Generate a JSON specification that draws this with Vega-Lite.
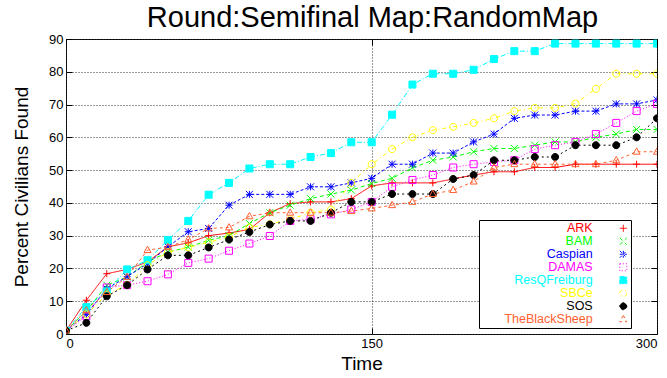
{
  "$schema": "https://vega.github.io/schema/vega-lite/v6.json",
  "width": 591,
  "height": 295,
  "autosize": {"type": "none"},
  "padding": {"left": 66, "top": 39, "right": 10, "bottom": 44},
  "background": "white",
  "title": {"text": "Round:Semifinal Map:RandomMap", "font": "Liberation Sans", "fontSize": 29, "fontWeight": "normal", "color": "black", "anchor": "middle", "frame": "group", "dx": 11, "offset": 0},
  "config": {
    "view": {"stroke": "black", "strokeWidth": 1},
    "axis": {"labelFont": "Liberation Sans", "labelFontSize": 13, "labelColor": "black", "titleFont": "Liberation Sans", "titleFontSize": 19, "titleFontWeight": "normal", "titleColor": "black", "domain": false, "tickColor": "black", "tickSize": -6, "grid": true, "gridColor": "#333333", "gridDash": [1, 2], "gridOpacity": 1}
  },
  "data": {"values": [
    {"team":"ARK","t":0,"v":1},{"team":"ARK","t":10,"v":10.3},{"team":"ARK","t":20,"v":18.4},{"team":"ARK","t":30,"v":19.7},{"team":"ARK","t":40,"v":22},{"team":"ARK","t":50,"v":26.6},{"team":"ARK","t":60,"v":27.8},{"team":"ARK","t":70,"v":30},{"team":"ARK","t":80,"v":30.8},{"team":"ARK","t":90,"v":31.9},{"team":"ARK","t":100,"v":37},{"team":"ARK","t":110,"v":39.8},{"team":"ARK","t":120,"v":40.3},{"team":"ARK","t":130,"v":40.3},{"team":"ARK","t":140,"v":41.3},{"team":"ARK","t":150,"v":45.2},{"team":"ARK","t":160,"v":46.1},{"team":"ARK","t":170,"v":46.1},{"team":"ARK","t":180,"v":46.1},{"team":"ARK","t":190,"v":47.3},{"team":"ARK","t":200,"v":48.5},{"team":"ARK","t":210,"v":49.5},{"team":"ARK","t":220,"v":49.5},{"team":"ARK","t":230,"v":50.8},{"team":"ARK","t":240,"v":50.8},{"team":"ARK","t":250,"v":51.8},{"team":"ARK","t":260,"v":51.8},{"team":"ARK","t":270,"v":51.8},{"team":"ARK","t":280,"v":51.8},{"team":"ARK","t":290,"v":51.8},
    {"team":"BAM","t":0,"v":1},{"team":"BAM","t":10,"v":7},{"team":"BAM","t":20,"v":14.9},{"team":"BAM","t":30,"v":17.4},{"team":"BAM","t":40,"v":22},{"team":"BAM","t":50,"v":25},{"team":"BAM","t":60,"v":26.5},{"team":"BAM","t":70,"v":28.6},{"team":"BAM","t":80,"v":30},{"team":"BAM","t":90,"v":33.7},{"team":"BAM","t":100,"v":37},{"team":"BAM","t":110,"v":39.3},{"team":"BAM","t":120,"v":41.3},{"team":"BAM","t":130,"v":42.7},{"team":"BAM","t":140,"v":43.9},{"team":"BAM","t":150,"v":45.9},{"team":"BAM","t":160,"v":47.5},{"team":"BAM","t":170,"v":50.7},{"team":"BAM","t":180,"v":53},{"team":"BAM","t":190,"v":54},{"team":"BAM","t":200,"v":55.6},{"team":"BAM","t":210,"v":56.6},{"team":"BAM","t":220,"v":56.6},{"team":"BAM","t":230,"v":57.6},{"team":"BAM","t":240,"v":58.6},{"team":"BAM","t":250,"v":58.6},{"team":"BAM","t":260,"v":60},{"team":"BAM","t":270,"v":61},{"team":"BAM","t":280,"v":62.4},{"team":"BAM","t":290,"v":62.4},
    {"team":"Caspian","t":0,"v":1},{"team":"Caspian","t":10,"v":6},{"team":"Caspian","t":20,"v":13.8},{"team":"Caspian","t":30,"v":17.5},{"team":"Caspian","t":40,"v":21.5},{"team":"Caspian","t":50,"v":26.6},{"team":"Caspian","t":60,"v":31.2},{"team":"Caspian","t":70,"v":32.2},{"team":"Caspian","t":80,"v":39.3},{"team":"Caspian","t":90,"v":42.6},{"team":"Caspian","t":100,"v":42.6},{"team":"Caspian","t":110,"v":42.6},{"team":"Caspian","t":120,"v":44.9},{"team":"Caspian","t":130,"v":44.9},{"team":"Caspian","t":140,"v":46.1},{"team":"Caspian","t":150,"v":47.5},{"team":"Caspian","t":160,"v":51.8},{"team":"Caspian","t":170,"v":51.8},{"team":"Caspian","t":180,"v":55.2},{"team":"Caspian","t":190,"v":55.2},{"team":"Caspian","t":200,"v":58.6},{"team":"Caspian","t":210,"v":61},{"team":"Caspian","t":220,"v":65.8},{"team":"Caspian","t":230,"v":66.8},{"team":"Caspian","t":240,"v":66.8},{"team":"Caspian","t":250,"v":68},{"team":"Caspian","t":260,"v":68},{"team":"Caspian","t":270,"v":70.2},{"team":"Caspian","t":280,"v":70.2},{"team":"Caspian","t":290,"v":71.4},
    {"team":"DAMAS","t":0,"v":1},{"team":"DAMAS","t":10,"v":5.4},{"team":"DAMAS","t":20,"v":14.2},{"team":"DAMAS","t":30,"v":14.9},{"team":"DAMAS","t":40,"v":16.1},{"team":"DAMAS","t":50,"v":18.2},{"team":"DAMAS","t":60,"v":21.7},{"team":"DAMAS","t":70,"v":23},{"team":"DAMAS","t":80,"v":25.4},{"team":"DAMAS","t":90,"v":27.6},{"team":"DAMAS","t":100,"v":29.9},{"team":"DAMAS","t":110,"v":34.5},{"team":"DAMAS","t":120,"v":35},{"team":"DAMAS","t":130,"v":36.5},{"team":"DAMAS","t":140,"v":38},{"team":"DAMAS","t":150,"v":40.3},{"team":"DAMAS","t":160,"v":44.9},{"team":"DAMAS","t":170,"v":47},{"team":"DAMAS","t":180,"v":48.5},{"team":"DAMAS","t":190,"v":50.8},{"team":"DAMAS","t":200,"v":51.8},{"team":"DAMAS","t":210,"v":52.5},{"team":"DAMAS","t":220,"v":53},{"team":"DAMAS","t":230,"v":56.4},{"team":"DAMAS","t":240,"v":57.6},{"team":"DAMAS","t":250,"v":58.6},{"team":"DAMAS","t":260,"v":61},{"team":"DAMAS","t":270,"v":64.4},{"team":"DAMAS","t":280,"v":68},{"team":"DAMAS","t":290,"v":70.2},
    {"team":"ResQFreiburg","t":0,"v":1},{"team":"ResQFreiburg","t":10,"v":8.2},{"team":"ResQFreiburg","t":20,"v":13},{"team":"ResQFreiburg","t":30,"v":19.7},{"team":"ResQFreiburg","t":40,"v":22.5},{"team":"ResQFreiburg","t":50,"v":28.7},{"team":"ResQFreiburg","t":60,"v":34.5},{"team":"ResQFreiburg","t":70,"v":42.5},{"team":"ResQFreiburg","t":80,"v":46.1},{"team":"ResQFreiburg","t":90,"v":50.5},{"team":"ResQFreiburg","t":100,"v":51.8},{"team":"ResQFreiburg","t":110,"v":51.8},{"team":"ResQFreiburg","t":120,"v":54},{"team":"ResQFreiburg","t":130,"v":55.2},{"team":"ResQFreiburg","t":140,"v":58.5},{"team":"ResQFreiburg","t":150,"v":58.5},{"team":"ResQFreiburg","t":160,"v":66.9},{"team":"ResQFreiburg","t":170,"v":76.1},{"team":"ResQFreiburg","t":180,"v":79.4},{"team":"ResQFreiburg","t":190,"v":79.4},{"team":"ResQFreiburg","t":200,"v":80.6},{"team":"ResQFreiburg","t":210,"v":83.9},{"team":"ResQFreiburg","t":220,"v":86.3},{"team":"ResQFreiburg","t":230,"v":86.3},{"team":"ResQFreiburg","t":240,"v":88.6},{"team":"ResQFreiburg","t":250,"v":88.6},{"team":"ResQFreiburg","t":260,"v":88.6},{"team":"ResQFreiburg","t":270,"v":88.6},{"team":"ResQFreiburg","t":280,"v":88.6},{"team":"ResQFreiburg","t":290,"v":88.6},
    {"team":"SBCe","t":0,"v":1},{"team":"SBCe","t":10,"v":6},{"team":"SBCe","t":20,"v":12},{"team":"SBCe","t":30,"v":15},{"team":"SBCe","t":40,"v":21},{"team":"SBCe","t":50,"v":25},{"team":"SBCe","t":60,"v":26.4},{"team":"SBCe","t":70,"v":28},{"team":"SBCe","t":80,"v":29.6},{"team":"SBCe","t":90,"v":32.5},{"team":"SBCe","t":100,"v":33.5},{"team":"SBCe","t":110,"v":35},{"team":"SBCe","t":120,"v":37},{"team":"SBCe","t":130,"v":38},{"team":"SBCe","t":140,"v":46.1},{"team":"SBCe","t":150,"v":51.8},{"team":"SBCe","t":160,"v":56.4},{"team":"SBCe","t":170,"v":60},{"team":"SBCe","t":180,"v":62.2},{"team":"SBCe","t":190,"v":63.2},{"team":"SBCe","t":200,"v":64.4},{"team":"SBCe","t":210,"v":65.8},{"team":"SBCe","t":220,"v":68},{"team":"SBCe","t":230,"v":69},{"team":"SBCe","t":240,"v":69},{"team":"SBCe","t":250,"v":70.3},{"team":"SBCe","t":260,"v":74.8},{"team":"SBCe","t":270,"v":79.4},{"team":"SBCe","t":280,"v":79.4},{"team":"SBCe","t":290,"v":79.4},
    {"team":"SOS","t":0,"v":1},{"team":"SOS","t":10,"v":3.4},{"team":"SOS","t":20,"v":11.5},{"team":"SOS","t":30,"v":14.9},{"team":"SOS","t":40,"v":19.7},{"team":"SOS","t":50,"v":24},{"team":"SOS","t":60,"v":24},{"team":"SOS","t":70,"v":26.4},{"team":"SOS","t":80,"v":28.8},{"team":"SOS","t":90,"v":31.1},{"team":"SOS","t":100,"v":33.4},{"team":"SOS","t":110,"v":34.5},{"team":"SOS","t":120,"v":34.5},{"team":"SOS","t":130,"v":37},{"team":"SOS","t":140,"v":40.3},{"team":"SOS","t":150,"v":40.3},{"team":"SOS","t":160,"v":42.7},{"team":"SOS","t":170,"v":42.7},{"team":"SOS","t":180,"v":42.7},{"team":"SOS","t":190,"v":47.3},{"team":"SOS","t":200,"v":48.5},{"team":"SOS","t":210,"v":53},{"team":"SOS","t":220,"v":53},{"team":"SOS","t":230,"v":54},{"team":"SOS","t":240,"v":54},{"team":"SOS","t":250,"v":57.6},{"team":"SOS","t":260,"v":57.6},{"team":"SOS","t":270,"v":57.6},{"team":"SOS","t":280,"v":60},{"team":"SOS","t":290,"v":65.8},
    {"team":"TheBlackSheep","t":0,"v":1},{"team":"TheBlackSheep","t":10,"v":7.2},{"team":"TheBlackSheep","t":20,"v":12.8},{"team":"TheBlackSheep","t":30,"v":17.4},{"team":"TheBlackSheep","t":40,"v":25.6},{"team":"TheBlackSheep","t":50,"v":26.5},{"team":"TheBlackSheep","t":60,"v":28.8},{"team":"TheBlackSheep","t":70,"v":32.2},{"team":"TheBlackSheep","t":80,"v":32.5},{"team":"TheBlackSheep","t":90,"v":35.9},{"team":"TheBlackSheep","t":100,"v":37},{"team":"TheBlackSheep","t":110,"v":37},{"team":"TheBlackSheep","t":120,"v":37},{"team":"TheBlackSheep","t":130,"v":37},{"team":"TheBlackSheep","t":140,"v":37.5},{"team":"TheBlackSheep","t":150,"v":38.3},{"team":"TheBlackSheep","t":160,"v":39.3},{"team":"TheBlackSheep","t":170,"v":40.3},{"team":"TheBlackSheep","t":180,"v":42.7},{"team":"TheBlackSheep","t":190,"v":43.9},{"team":"TheBlackSheep","t":200,"v":46.5},{"team":"TheBlackSheep","t":210,"v":50.8},{"team":"TheBlackSheep","t":220,"v":51.8},{"team":"TheBlackSheep","t":230,"v":51.8},{"team":"TheBlackSheep","t":240,"v":51.8},{"team":"TheBlackSheep","t":250,"v":51.8},{"team":"TheBlackSheep","t":260,"v":51.8},{"team":"TheBlackSheep","t":270,"v":53},{"team":"TheBlackSheep","t":280,"v":55.6},{"team":"TheBlackSheep","t":290,"v":55.6}
  ]},
  "encoding": {
    "x": {"field": "t", "type": "quantitative", "scale": {"domain": [0, 290], "nice": false, "zero": false},
      "axis": {"values": [0, 150, 290], "labelExpr": "datum.value == 290 ? '300' : datum.label", "title": "Time", "labelPadding": 9, "titlePadding": 4}},
    "y": {"field": "v", "type": "quantitative", "scale": {"domain": [0, 90], "nice": false},
      "axis": {"values": [0, 10, 20, 30, 40, 50, 60, 70, 80, 90], "title": "Percent Civilians Found", "labelPadding": 9, "titlePadding": 17}}
  },
  "resolve": {"axis": {"x": "independent", "y": "independent"}},
  "layer": [
    {
      "mark": {"type": "line", "strokeWidth": 1, "clip": true},
      "encoding": {
        "color": {"field": "team", "type": "nominal",
          "scale": {"domain": ["ARK", "BAM", "Caspian", "DAMAS", "ResQFreiburg", "SBCe", "SOS", "TheBlackSheep"],
                    "range": ["#ff0000", "#00ff00", "#0000ff", "#ff00ff", "#00ffff", "#ffff00", "#000000", "#ff6030"]},
          "legend": {
            "orient": "none", "legendX": 413, "legendY": 181, "title": null,
            "strokeColor": "black", "fillColor": "white", "padding": 2, "rowPadding": 0,
            "labelFont": "Liberation Sans", "labelFontSize": 12.5, "symbolSize": 49, "symbolStrokeWidth": 1,
            "encode": {
              "labels": {"update": {"x": {"value": 111.7}, "align": {"value": "right"}, "fill": {"scale": "color", "field": "value"}}},
              "symbols": {"update": {
                "x": {"value": 142.3},
                "opacity": {"value": 1},
                "strokeWidth": {"value": 1}
              }}
            }
          }},
        "strokeDash": {"field": "team", "type": "nominal",
          "scale": {"domain": ["ARK", "BAM", "Caspian", "DAMAS", "ResQFreiburg", "SBCe", "SOS", "TheBlackSheep"],
                    "range": [[1, 0], [4, 3], [3, 2], [1, 2], [5, 2, 1, 2], [4, 3, 1, 3], [2, 3], [3, 3]]},
          "legend": null}
      }
    },
    {
      "mark": {"type": "point", "filled": false, "size": 49, "strokeWidth": 1, "opacity": 1, "clip": true},
      "encoding": {
        "x": {"field": "t", "type": "quantitative",
          "axis": {"orient": "top", "values": [0, 150, 290], "labels": false, "title": null, "grid": false}},
        "y": {"field": "v", "type": "quantitative",
          "axis": {"orient": "right", "values": [0, 10, 20, 30, 40, 50, 60, 70, 80, 90], "labels": false, "title": null, "grid": false}},
        "stroke": {"field": "team", "type": "nominal",
          "scale": {"domain": ["ARK", "BAM", "Caspian", "DAMAS", "ResQFreiburg", "SBCe", "SOS", "TheBlackSheep"],
                    "range": ["#ff0000", "#00ff00", "#0000ff", "#ff00ff", "#00ffff", "#ffff00", "#000000", "#ff6030"]},
          "legend": null},
        "shape": {"field": "team", "type": "nominal",
          "scale": {"domain": ["ARK", "BAM", "Caspian", "DAMAS", "ResQFreiburg", "SBCe", "SOS", "TheBlackSheep"],
                    "range": ["M-1,0H1M0,-1V1", "M-1,-1L1,1M-1,1L1,-1", "M-1,0H1M0,-1V1M-1,-1L1,1M-1,1L1,-1", "M-1,-1H1V1H-1Z", "M-1,-1H1V1H-1Z", "M1,0A1,1,0,1,1,-1,0A1,1,0,1,1,1,0Z", "M1,0A1,1,0,1,1,-1,0A1,1,0,1,1,1,0Z", "M0,-1.1L1,0.7H-1Z"]},
          "legend": null},
        "fill": {"field": "team", "type": "nominal",
          "scale": {"domain": ["ARK", "BAM", "Caspian", "DAMAS", "ResQFreiburg", "SBCe", "SOS", "TheBlackSheep"],
                    "range": ["transparent", "transparent", "transparent", "transparent", "#00ffff", "transparent", "#000000", "transparent"]},
          "legend": null}
      }
    }
  ]
}
